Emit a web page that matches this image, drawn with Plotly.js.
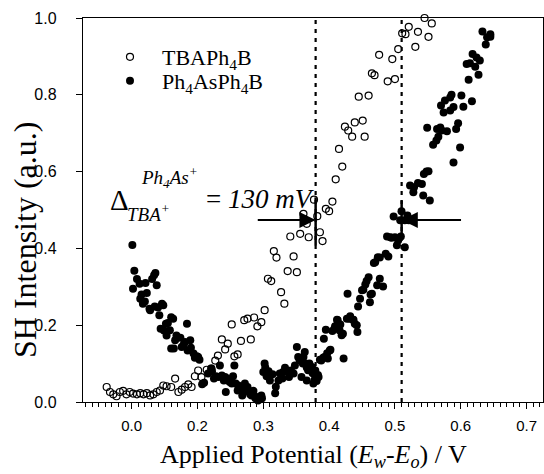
<!DOCTYPE html>
<html>
<head>
<meta charset="utf-8">
<script src="https://cdn.plot.ly/plotly-3.0.1.min.js"></script>
<style>html,body{margin:0;padding:0;background:#fff;}#chart{width:544px;height:474px;}</style>
</head>
<body>
<div id="chart"></div>
<script>
// TBAPh4B (open circles): [potential, SH intensity]
var tbaX = [0.062,0.067,0.072,0.077,0.082,0.087,0.092,0.097,0.102,0.108,0.113,0.118,0.123,0.128,0.133,0.138,0.143,0.148,0.153,0.160,0.166,0.171,0.176,0.181,0.186,0.191,0.196,0.201,0.206,0.214,0.221,0.227,0.231,0.237,0.242,0.246,0.252,0.256,0.261,0.266,0.271,0.276,0.281,0.286,0.291,0.297,0.302,0.307,0.312,0.316,0.320,0.327,0.332,0.337,0.341,0.346,0.351,0.356,0.361,0.366,0.369,0.377,0.382,0.386,0.390,0.395,0.400,0.405,0.410,0.415,0.420,0.424,0.429,0.435,0.439,0.445,0.451,0.454,0.460,0.465,0.469,0.476,0.489,0.496,0.500,0.505,0.511,0.516,0.521,0.531,0.535,0.545,0.551,0.556];
var tbaY = [0.039,0.026,0.020,0.015,0.026,0.029,0.020,0.026,0.022,0.020,0.023,0.020,0.023,0.017,0.020,0.026,0.030,0.043,0.041,0.039,0.061,0.026,0.032,0.039,0.046,0.039,0.067,0.082,0.065,0.084,0.087,0.108,0.121,0.163,0.137,0.152,0.202,0.119,0.124,0.159,0.213,0.217,0.163,0.220,0.197,0.208,0.239,0.321,0.315,0.393,0.376,0.286,0.256,0.341,0.431,0.379,0.338,0.438,0.490,0.464,0.429,0.527,0.484,0.442,0.419,0.503,0.497,0.522,0.580,0.659,0.613,0.717,0.707,0.691,0.728,0.795,0.733,0.691,0.798,0.856,0.851,0.904,0.835,0.893,0.841,0.919,0.960,0.958,0.977,0.925,0.964,1.000,0.951,0.986];

// Ph4AsPh4B (filled circles)
var phX = [0.101,0.104,0.102,0.108,0.112,0.113,0.115,0.117,0.120,0.121,0.123,0.127,0.128,0.131,0.134,0.136,0.138,0.135,0.140,0.142,0.146,0.148,0.144,0.149,0.152,0.155,0.160,0.163,0.153,0.158,0.160,0.164,0.166,0.168,0.174,0.176,0.179,0.181,0.184,0.185,0.189,0.190,0.194,0.196,0.199,0.201,0.203,
 0.207,0.210,0.216,0.221,0.222,0.225,0.228,0.232,0.234,0.237,0.240,0.242,0.243,0.245,0.247,0.249,0.252,0.254,0.256,0.258,0.262,0.261,0.265,0.267,0.268,0.272,0.272,0.276,0.277,0.279,0.280,0.282,0.285,0.287,0.288,0.292,0.293,0.297,0.298,
 0.300,0.302,0.303,0.305,0.308,0.310,0.314,0.318,0.319,0.323,0.325,0.329,0.330,0.333,0.337,0.339,0.342,0.346,0.348,0.351,0.353,0.355,0.357,0.358,0.360,0.361,0.363,0.364,0.366,0.366,0.368,0.370,0.372,0.374,0.375,0.376,0.378,0.379,0.381,0.383,0.384,
 0.386,0.388,0.391,0.393,0.392,0.395,0.397,0.398,0.401,0.402,0.405,0.408,0.409,0.412,0.413,0.416,0.417,0.419,0.421,0.422,0.427,0.428,0.431,0.432,0.436,0.437,0.439,0.442,0.443,0.444,0.447,0.450,0.452,0.455,0.457,0.460,0.462,0.463,0.465,0.468,0.470,0.473,0.474,0.477,0.477,0.482,0.486,0.488,0.490,0.493,0.495,0.498,0.500,0.503,0.505,0.508,0.509,0.510,0.515,0.515,0.519,0.521,
 0.523,0.528,0.529,0.535,0.541,0.543,0.544,0.548,0.551,0.553,0.549,0.558,0.563,0.566,0.569,0.564,0.571,0.579,0.574,0.570,0.576,0.584,0.586,0.584,0.589,0.596,0.593,0.599,0.589,0.601,0.604,0.617,0.612,0.609,0.614,0.618,0.622,0.624,0.627,0.629,0.633,0.638,0.640,0.645,0.645];
var phY = [0.409,0.342,0.295,0.320,0.308,0.269,0.280,0.256,0.262,0.310,0.284,0.243,0.239,0.320,0.330,0.336,0.304,0.249,0.246,0.226,0.256,0.252,0.191,0.186,0.204,0.206,0.221,0.217,0.173,0.187,0.139,0.139,0.161,0.173,0.167,0.143,0.150,0.156,0.204,0.134,0.161,0.141,0.126,0.115,0.119,0.117,0.110,
 0.046,0.050,0.074,0.087,0.080,0.061,0.067,0.065,0.095,0.069,0.056,0.065,0.026,0.061,0.056,0.052,0.048,0.067,0.095,0.048,0.043,0.030,0.039,0.034,0.017,0.048,0.030,0.039,0.030,0.026,0.020,0.017,0.029,0.015,0.010,0.004,0.012,0.017,0.010,
 0.078,0.100,0.090,0.067,0.080,0.056,0.072,0.023,0.040,0.056,0.074,0.061,0.078,0.089,0.081,0.065,0.082,0.074,0.095,0.143,0.117,0.110,0.107,0.065,0.100,0.117,0.130,0.100,0.090,0.056,0.083,0.100,0.082,0.091,0.075,0.048,0.058,0.082,0.055,0.070,0.065,
 0.110,0.108,0.115,0.117,0.165,0.188,0.127,0.113,0.134,0.136,0.185,0.191,0.197,0.214,0.213,0.186,0.202,0.174,0.178,0.113,0.217,0.282,0.217,0.223,0.214,0.214,0.204,0.200,0.182,0.249,0.269,0.291,0.292,0.306,0.315,0.325,0.260,0.280,0.282,0.362,0.364,0.304,0.377,0.321,0.376,0.301,0.386,0.431,0.379,0.429,0.428,0.483,0.429,0.408,0.421,0.473,0.431,0.497,0.403,0.473,0.486,0.473,
 0.564,0.546,0.559,0.570,0.568,0.538,0.594,0.600,0.601,0.525,0.714,0.670,0.681,0.691,0.715,0.711,0.707,0.705,0.754,0.772,0.785,0.793,0.800,0.759,0.768,0.726,0.711,0.663,0.624,0.798,0.769,0.783,0.839,0.880,0.882,0.906,0.873,0.897,0.852,0.889,0.965,0.931,0.950,0.951,0.958];

var xTickVals = [0.1,0.2,0.3,0.4,0.5,0.6,0.7];
var xTickText = ['0.0','0.2','0.3','0.4','0.5','0.6','0.7'];
var yTickVals = [0,0.2,0.4,0.6,0.8,1.0];
var markLines = [0.3795, 0.5102];   // dotted guide lines (V)
var arrowY = 0.474;
var leftArrowStart = 0.287, rightArrowStart = 0.605;

var serif = 'Liberation Serif, Times New Roman, serif';
var sans = 'Liberation Sans, Arial, sans-serif';

var traces = [
  {x: tbaX, y: tbaY, type: 'scatter', mode: 'markers', name: 'TBAPh<sub>4</sub>B', cliponaxis: false, legend: 'legend',
   marker: {symbol: 'circle-open', size: 7, color: 'black', line: {width: 1.2, color: 'black'}}},
  {x: phX, y: phY, type: 'scatter', mode: 'markers', name: 'Ph<sub>4</sub>AsPh<sub>4</sub>B', cliponaxis: false, legend: 'legend2',
   marker: {symbol: 'circle', size: 8, color: 'black'}}
];

var shapes = [];
markLines.forEach(function(v){
  shapes.push({type: 'line', xref: 'x', yref: 'y', x0: v, x1: v, y0: 0, y1: 1,
    line: {color: 'black', width: 2.2, dash: '4px,5px'}});
});
shapes.push({type:'line', xref:'x', yref:'y', x0: markLines[0], x1: markLines[0], y0: 0.408, y1: 0.533, line:{color:'black', width:2.5}});
shapes.push({type:'line', xref:'x', yref:'y', x0: markLines[1], x1: markLines[1], y0: 0.420, y1: 0.525, line:{color:'black', width:2.5}});

var annotations = [
  {xref:'x', yref:'y', x: markLines[0], y: arrowY, axref:'x', ayref:'y', ax: leftArrowStart, ay: arrowY,
   showarrow: true, arrowhead: 2, arrowsize: 1.8, arrowwidth: 1.8, arrowcolor: 'black', standoff: 0, text: ' '},
  {xref:'x', yref:'y', x: markLines[1], y: arrowY, axref:'x', ayref:'y', ax: rightArrowStart, ay: arrowY,
   showarrow: true, arrowhead: 2, arrowsize: 1.8, arrowwidth: 1.8, arrowcolor: 'black', standoff: 0, text: ' '},
  {xref:'x', yref:'y', x: 0.081, y: 0.527, text: 'Δ', showarrow: false,
   font: {family: serif, size: 29, color: 'black'}},
  {xref:'x', yref:'y', x: 0.157, y: 0.585, text: '<i>Ph<sub>4</sub>As<sup>+</sup></i>', showarrow: false,
   font: {family: serif, size: 19, color: 'black'}},
  {xref:'x', yref:'y', x: 0.125, y: 0.493, text: '<i>TBA<sup>+</sup></i>', showarrow: false,
   font: {family: serif, size: 19, color: 'black'}},
  {xref:'x', yref:'y', x: 0.296, y: 0.529, text: '= <i>130 mV</i>', showarrow: false,
   font: {family: serif, size: 27, color: 'black'}},
  {xref:'paper', yref:'paper', x: -0.126, y: 0.422, xanchor: 'center', yanchor: 'middle',
   text: 'SH Intensity (a.u.)', textangle: -90, showarrow: false,
   font: {family: serif, size: 32, color: 'black'}},
  {xref:'paper', yref:'paper', x: 0.502, y: -0.140, xanchor: 'center', yanchor: 'middle',
   text: 'Applied Potential (<i>E</i><sub><i>w</i></sub>-<i>E</i><sub><i>o</i></sub>) / V', showarrow: false,
   font: {family: serif, size: 26, color: 'black'}}
];

var legendCommon = {xanchor: 'left', yanchor: 'middle', bgcolor: 'rgba(0,0,0,0)', itemwidth: 54,
  font: {family: serif, size: 22, color: 'black'}};

var layout = {
  width: 544, height: 474,
  margin: {l: 83, r: 1, t: 18, b: 72},
  paper_bgcolor: 'white', plot_bgcolor: 'white',
  showlegend: true,
  legend: Object.assign({x: (98-83)/460, y: (402-57)/384}, legendCommon),
  legend2: Object.assign({x: (98-83)/460, y: (402-81)/384}, legendCommon),
  xaxis: {range: [0.026, 0.725], tickmode: 'array', tickvals: xTickVals, ticktext: xTickText,
          ticks: 'outside', ticklen: 6, tickwidth: 1, tickcolor: 'black', ticklabelstandoff: 4,
          showline: true, linecolor: 'black', linewidth: 1.2, mirror: true, showgrid: false, zeroline: false,
          tickfont: {family: sans, size: 15, color: 'black'},
          minor: {tickmode: 'linear', tick0: 0, dtick: 0.01, ticks: 'outside', ticklen: 4, tickcolor: 'black', tickwidth: 1, showgrid: false}},
  yaxis: {range: [0, 1], tickmode: 'array', tickvals: yTickVals, tickformat: '.1f',
          ticks: 'outside', ticklen: 6, tickwidth: 1, tickcolor: 'black', ticklabelstandoff: 16,
          showline: true, linecolor: 'black', linewidth: 1.2, mirror: true, showgrid: false, zeroline: false,
          tickfont: {family: sans, size: 16, color: 'black'}},
  shapes: shapes,
  annotations: annotations
};

Plotly.newPlot('chart', traces, layout, {staticPlot: true, displayModeBar: false});
</script>
</body>
</html>
